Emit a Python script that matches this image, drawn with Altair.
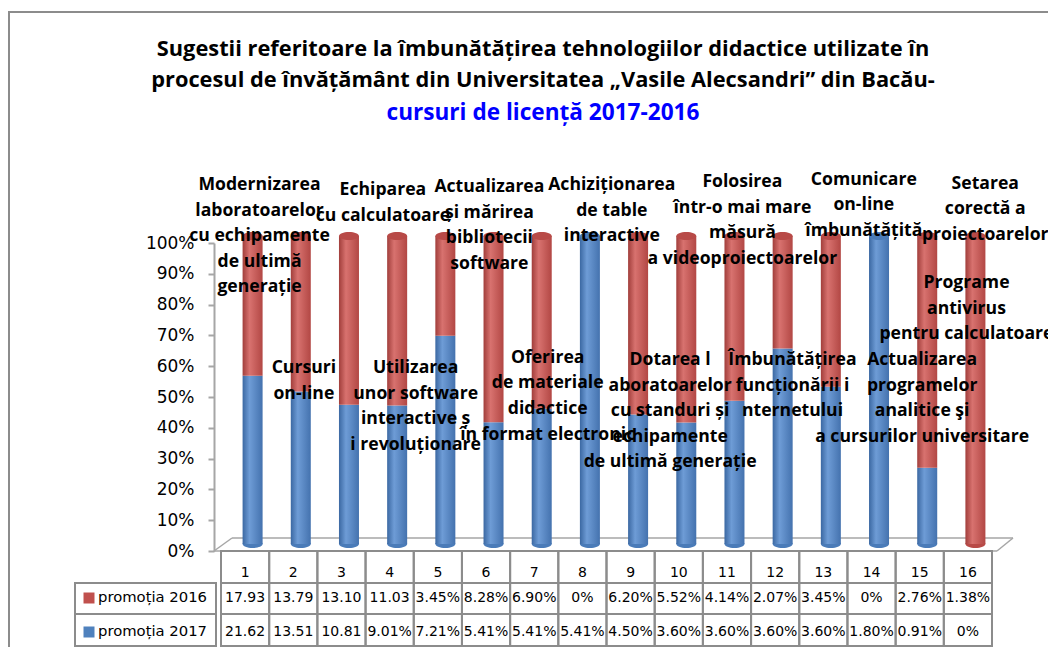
import altair as alt
import pandas as pd

# ---------------- data ----------------
categories = list(range(1, 17))
promotia_2016 = [17.93, 13.79, 13.10, 11.03, 3.45, 8.28, 6.90, 0, 6.20, 5.52, 4.14, 2.07, 3.45, 0, 2.76, 1.38]
promotia_2017 = [21.62, 13.51, 10.81, 9.01, 7.21, 5.41, 5.41, 5.41, 4.50, 3.60, 3.60, 3.60, 3.60, 1.80, 0.91, 0]
series_names = ["promoția 2016", "promoția 2017"]
y_tick_values = [0.0, 0.1, 0.2, 0.3, 0.4, 0.5, 0.6, 0.7, 0.8, 0.9, 1.0]

title_lines = [
    "Sugestii referitoare la îmbunătățirea tehnologiilor didactice utilizate în",
    "procesul de învățământ din Universitatea „Vasile Alecsandri” din Bacău-",
    "cursuri de licență 2017-2016",
]

annotation_texts = [
    ["Modernizarea", "laboratoarelor", "cu echipamente", "de ultimă", "generație"],
    ["Echiparea", "cu calculatoare"],
    ["Actualizarea", "și mărirea", "bibliotecii", "software"],
    ["Achiziționarea", "de table", "interactive"],
    ["Folosirea", "într-o mai mare", "măsură", "a videoproiectoarelor"],
    ["Comunicare", "on-line", "îmbunătățită"],
    ["Setarea", "corectă a", "proiectoarelor"],
    ["Programe", "antivirus", "pentru calculatoare"],
    ["Cursuri", "on-line"],
    ["Utilizarea", "unor software", "interactive ș", "i revoluționare"],
    ["Oferirea", "de materiale", "didactice", "în format electronic"],
    ["Dotarea l", "aboratoarelor", "cu standuri și", "echipamente", "de ultimă generație"],
    ["Îmbunătățirea", "funcționării i", "nternetului"],
    ["Actualizarea", "programelor", "analitice şi", "a cursurilor universitare"],
]
# annotation anchors (centre of first line) in axis units
annotation_x = [1.30, 3.86, 6.07, 8.61, 11.32, 13.84, 16.36, 15.97, 2.22, 4.54, 7.28, 9.82, 12.36, 15.05]
annotation_y = [1.188, 1.172, 1.182, 1.188, 1.198, 1.205, 1.192, 0.870, 0.594, 0.594, 0.627, 0.620, 0.620, 0.620]
LINE_STEP = 0.083


def fmt(v):
    if v == 0:
        return "0%"
    return f"{v:.2f}" if v >= 10 else f"{v:.2f}%"


rows = []
for c, a, b in zip(categories, promotia_2016, promotia_2017):
    rows.append({"cat": c, "series": series_names[0], "value": a, "order": 1, "label": fmt(a)})
    rows.append({"cat": c, "series": series_names[1], "value": b, "order": 0, "label": fmt(b)})
df = pd.DataFrame(rows)
df_cat = pd.DataFrame({"cat": categories})

ann_rows = []
for lines, ax, ay in zip(annotation_texts, annotation_x, annotation_y):
    for k, t in enumerate(lines):
        ann_rows.append({"t": t, "ax": ax, "ay": ay - k * LINE_STEP})
df_ann = pd.DataFrame(ann_rows)

one = pd.DataFrame({"a": [0]})

# ---------------- styles ----------------
RED, BLUE = "#C0504D", "#4F81BD"
RED_CAP, BLUE_CAP = "#D67976", "#7FA4D6"
GRID = "#8C8C8C"
FLOOR = "#A6A6A6"
BODY_FONT = "DejaVu Sans"
ANN_FONT = "Open Sans"

xs = alt.Scale(domain=[0.5, 16.5], nice=False, zero=False)
ys = alt.Scale(domain=[0, 1], nice=False, zero=False)

yaxis = alt.Axis(values=y_tick_values, format=".0%", grid=False, title=None,
                 labelFont=BODY_FONT, labelFontSize=17, labelColor="#000000",
                 domainColor=FLOOR, domainWidth=2, tickColor=FLOOR, tickWidth=2,
                 tickSize=6, labelPadding=14, offset=2)


def X(field):
    return alt.X(field, scale=xs, axis=None)


def Y(field):
    return alt.Y(field, scale=ys, axis=yaxis)


def cyl(dark, light, dark2):
    return alt.Gradient(
        gradient="linear", x1=0, x2=1, y1=0, y2=0,
        stops=[alt.GradientStop(offset=0, color=dark),
               alt.GradientStop(offset=0.35, color=light),
               alt.GradientStop(offset=1, color=dark2)],
    )


RED_GRAD = cyl("#A13E3B", "#D8726F", "#B24744")
BLUE_GRAD = cyl("#3B68A2", "#6E9CD6", "#4472AE")

ELLIPSE = "M-1,0 A1,0.4 0 1,1 1,0 A1,0.4 0 1,1 -1,0 Z"
BX, BY = 7.5, -7

stacked = alt.Chart(df).transform_stack(
    stack="value", groupby=["cat"], as_=["y0", "y1"], offset="normalize",
    sort=[alt.SortField("order", order="ascending")],
)

# frame
frame = alt.Chart(one).mark_rect(fillOpacity=0, stroke=GRID, strokeWidth=2).encode(
    x=alt.value(-207), x2=alt.value(900), y=alt.value(-231), y2=alt.value(500))


# floor
def seg(x1, y1, x2, y2):
    return alt.Chart(one).mark_rule(color=FLOOR, strokeWidth=1.5).encode(
        x=alt.value(x1), y=alt.value(y1), x2=alt.value(x2), y2=alt.value(y2))


floor = [seg(-2, 308, 781, 308), seg(16, 295, 797, 295), seg(-2, 308, 16, 295), seg(781, 308, 797, 295)]

blue_body = stacked.transform_filter(f"datum.series == '{series_names[1]}'").mark_bar(
    width=20, xOffset=BX, yOffset=BY, y2Offset=BY, fill=BLUE_GRAD, strokeWidth=0
).encode(x=X("cat:Q"), y=Y("y0:Q"), y2="y1:Q")

red_body = stacked.transform_filter(f"datum.series == '{series_names[0]}'").mark_bar(
    width=20, xOffset=BX, yOffset=BY, y2Offset=BY, fill=RED_GRAD, strokeWidth=0
).encode(x=X("cat:Q"), y=Y("y0:Q"), y2="y1:Q")

bottom_caps = stacked.transform_filter("datum.y0 < 0.0001 && datum.y1 > datum.y0").mark_point(
    shape=ELLIPSE, size=400, filled=True, opacity=1, strokeWidth=0, xOffset=BX, yOffset=BY
).encode(x=X("cat:Q"), y=Y("y0:Q"),
         color=alt.Color("series:N", scale=alt.Scale(domain=series_names, range=["#B84A47", "#4A7BB8"]), legend=None))

top_caps = stacked.transform_filter("datum.y1 > 0.9999 && datum.y1 > datum.y0").mark_point(
    shape=ELLIPSE, size=400, filled=True, opacity=1, strokeWidth=0, xOffset=BX, yOffset=BY
).encode(x=X("cat:Q"), y=Y("y1:Q"),
         color=alt.Color("series:N", scale=alt.Scale(domain=series_names, range=[RED_CAP, BLUE_CAP]), legend=None))

annotations = alt.Chart(df_ann).mark_text(
    font=ANN_FONT, fontWeight="bold", fontSize=17.6, color="#000000", align="center", baseline="middle"
).encode(x=X("ax:Q"), y=Y("ay:Q"), text="t:N")

# table
cells = alt.Chart(df_cat).transform_calculate(xl="datum.cat - 0.5", xr="datum.cat + 0.5")


def grid_row(y1, y2):
    return cells.mark_rect(fillOpacity=0, stroke=GRID, strokeWidth=2).encode(
        x=X("xl:Q"), x2="xr:Q", y=alt.value(y1), y2=alt.value(y2))


grid = [grid_row(308, 340), grid_row(340, 371), grid_row(371, 403)]
label_cells = [
    alt.Chart(one).mark_rect(fillOpacity=0, stroke=GRID, strokeWidth=2).encode(
        x=alt.value(-141), x2=alt.value(0), y=alt.value(340), y2=alt.value(371)),
    alt.Chart(one).mark_rect(fillOpacity=0, stroke=GRID, strokeWidth=2).encode(
        x=alt.value(-141), x2=alt.value(0), y=alt.value(371), y2=alt.value(403)),
]

header = alt.Chart(df_cat).mark_text(font=BODY_FONT, fontSize=14, color="#000000", baseline="middle").encode(
    x=X("cat:Q"), y=alt.value(330), text="cat:N")

vals_2016 = alt.Chart(df).transform_filter(f"datum.series == '{series_names[0]}'").mark_text(
    font=BODY_FONT, fontSize=14, color="#000000", baseline="middle"
).encode(x=X("cat:Q"), y=alt.value(355), text="label:N")
vals_2017 = alt.Chart(df).transform_filter(f"datum.series == '{series_names[1]}'").mark_text(
    font=BODY_FONT, fontSize=14, color="#000000", baseline="middle"
).encode(x=X("cat:Q"), y=alt.value(389), text="label:N")

legend_items = []
for name, col, yy in [(series_names[0], RED, 355), (series_names[1], BLUE, 389)]:
    legend_items.append(alt.Chart(one).mark_square(size=121, color=col, opacity=1).encode(
        x=alt.value(-127), y=alt.value(yy)))
    legend_items.append(alt.Chart(pd.DataFrame({"t": [name]})).mark_text(
        font=BODY_FONT, fontSize=14.8, color="#000000", align="left", baseline="middle"
    ).encode(x=alt.value(-118), y=alt.value(yy), text="t:N"))

titles = []
for t, xx, yy, col, fs in [(title_lines[0], 327, -194, "#000000", 21.8),
                           (title_lines[1], 327, -163, "#000000", 21.8),
                           (title_lines[2], 327, -130, "#0000FF", 22.6)]:
    titles.append(alt.Chart(pd.DataFrame({"t": [t]})).mark_text(
        font=ANN_FONT, fontWeight="bold", fontSize=fs, color=col, align="center", baseline="middle"
    ).encode(x=alt.value(xx), y=alt.value(yy), text="t:N"))

chart = alt.layer(
    frame, *floor, bottom_caps, blue_body, red_body, top_caps, annotations,
    *grid, *label_cells, header, vals_2016, vals_2017, *legend_items, *titles
).properties(
    width=781, height=308,
    autosize=alt.AutoSizeParams(type="none"),
    padding={"left": 208, "top": 235, "right": 51, "bottom": 96},
    background="#FFFFFF",
).configure_view(stroke=None)

chart.save("out.html", embed_options={"renderer": "svg", "actions": False})
